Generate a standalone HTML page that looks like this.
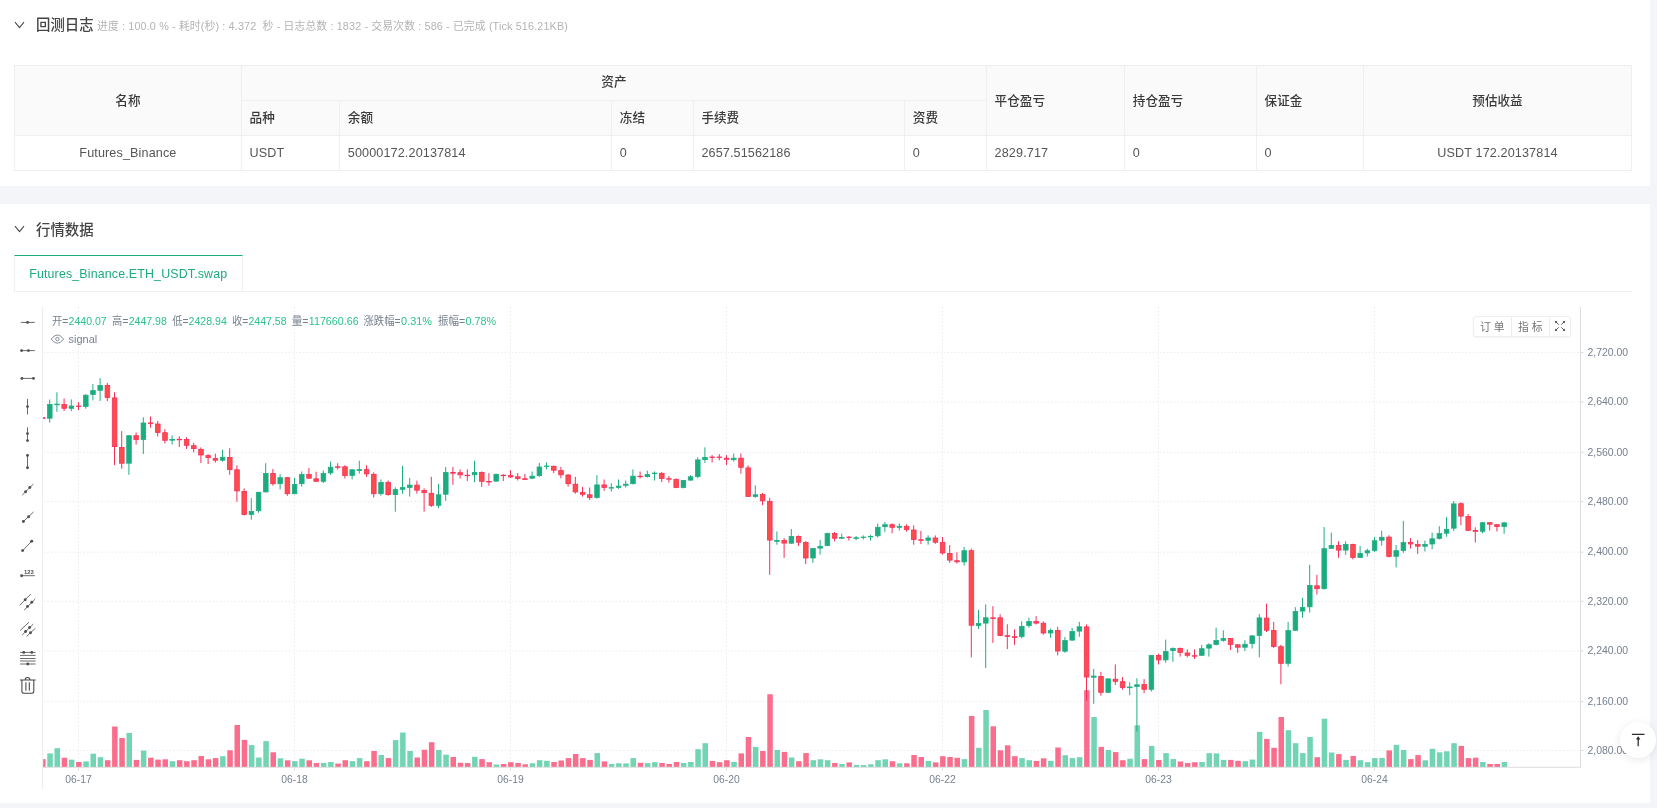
<!DOCTYPE html>
<html lang="zh-CN">
<head>
<meta charset="utf-8">
<title>回测日志</title>
<style>
html,body{margin:0;padding:0}
body{width:1657px;height:808px;overflow:hidden;background:#f4f5f8;position:relative;font-family:"Liberation Sans","Noto Sans CJK SC",sans-serif;color:#333}
#root{position:absolute;left:0;top:0;width:1657px;height:808px;overflow:hidden;will-change:transform}
.panel{position:absolute;left:0;width:1650px;background:#fff}
#p1{top:0;height:186px}
#p2{top:204px;height:599px}
.ttl{position:absolute;left:36px;font-size:14.4px;line-height:20px;color:#454545;font-weight:500;white-space:nowrap}
.sub{position:absolute;left:97px;font-size:10.8px;line-height:16px;color:#b4b4b4;white-space:pre;letter-spacing:0.14px}
.chev{position:absolute;left:14px;width:11px;height:8px}
.tb{position:absolute;left:14px;top:65px;width:1618px;height:106px}
.tb i{position:absolute;display:block;background:#efefef}
.tb b{position:absolute;display:block;font-weight:normal;font-size:12.6px;line-height:20px;height:20px;white-space:nowrap}
.tb b.h{font-weight:500;color:#3a3a3a}
.tb b.d{color:#555}
.tb b.c{transform:translateX(-50%)}
.thbg{position:absolute;left:0;top:0;width:1618px;height:70px;background:#fafafa}
.tab{position:absolute;left:14px;top:255px;width:228.5px;height:36px;box-sizing:border-box;border-top:1.6px solid #1bab7f;border-left:1px solid #efefef;border-right:1px solid #efefef;background:#fff;color:#1bab7f;font-size:12.4px;line-height:37px;text-align:center;white-space:nowrap;letter-spacing:0.16px}
.tabline{position:absolute;left:14px;top:291px;width:1618px;height:1px;background:#f0f0f0}
.chart{position:absolute;left:0;top:300px}
.btns{position:absolute;left:1472.8px;top:315.8px;width:98.2px;height:21px;box-sizing:border-box;border:1px solid #eeeeee;border-radius:3px;background:#fff;box-shadow:0 1px 2px rgba(0,0,0,.05);font-size:10.8px;color:#757575;display:flex;line-height:20.4px}
.btns span{display:block;text-align:center;border-right:1px solid #eeeeee;box-sizing:border-box}
.btns span:last-child{border-right:0}
.top{position:absolute;left:1620px;top:722px;width:36px;height:36px;border-radius:50%;background:#fff;box-shadow:0 2px 10px rgba(0,0,0,.09)}
</style>
</head>
<body>
<div id="root">
<div class="panel" id="p1"></div>
<div class="panel" id="p2"></div>

<svg class="chev" style="top:21px" viewBox="0 0 11 8"><path d="M1 1.2L5.5 6.6L10 1.2" fill="none" stroke="#484848" stroke-width="1.05"/></svg>
<div class="ttl" style="top:15px">回测日志</div>
<div class="sub" style="top:18px">进度 : 100.0 % - 耗时(秒) : 4.372  秒 - 日志总数 : 1832 - 交易次数 : 586 - 已完成 (Tick 516.21KB)</div>

<div class="tb"><div class="thbg"></div>
<i style="left:-0.1px;top:-0.1px;width:1618.1px;height:1px"></i>
<i style="left:226.9px;top:34.8px;width:746.0px;height:1px"></i>
<i style="left:-0.1px;top:69.8px;width:1618.1px;height:1px"></i>
<i style="left:-0.1px;top:104.8px;width:1618.1px;height:1px"></i>
<i style="left:-0.1px;top:-0.1px;width:1px;height:105.9px"></i>
<i style="left:226.9px;top:-0.1px;width:1px;height:105.9px"></i>
<i style="left:325.1px;top:34.8px;width:1px;height:71.0px"></i>
<i style="left:597.1px;top:34.8px;width:1px;height:71.0px"></i>
<i style="left:678.7px;top:34.8px;width:1px;height:71.0px"></i>
<i style="left:890.1px;top:34.8px;width:1px;height:71.0px"></i>
<i style="left:971.9px;top:-0.1px;width:1px;height:105.9px"></i>
<i style="left:1110.1px;top:-0.1px;width:1px;height:105.9px"></i>
<i style="left:1241.9px;top:-0.1px;width:1px;height:105.9px"></i>
<i style="left:1349.1px;top:-0.1px;width:1px;height:105.9px"></i>
<i style="left:1617.0px;top:-0.1px;width:1px;height:105.9px"></i>
<b class="h c" style="left:113.9px;top:25.9px">名称</b>
<b class="h c" style="left:599.9px;top:7.4px">资产</b>
<b class="h" style="left:980.6px;top:25.9px">平仓盈亏</b>
<b class="h" style="left:1118.8px;top:25.9px">持仓盈亏</b>
<b class="h" style="left:1250.6px;top:25.9px">保证金</b>
<b class="h c" style="left:1483.5px;top:25.9px">预估收益</b>
<b class="h" style="left:235.6px;top:42.6px">品种</b>
<b class="h" style="left:333.8px;top:42.6px">余额</b>
<b class="h" style="left:605.8px;top:42.6px">冻结</b>
<b class="h" style="left:687.4px;top:42.6px">手续费</b>
<b class="h" style="left:898.8px;top:42.6px">资费</b>
<b class="d c" style="left:113.9px;top:77.7px;letter-spacing:0.13px">Futures_Binance</b>
<b class="d" style="left:235.6px;top:77.7px;letter-spacing:0.13px">USDT</b>
<b class="d" style="left:333.8px;top:77.7px;letter-spacing:0.13px">50000172.20137814</b>
<b class="d" style="left:605.8px;top:77.7px;letter-spacing:0.13px">0</b>
<b class="d" style="left:687.4px;top:77.7px;letter-spacing:0.13px">2657.51562186</b>
<b class="d" style="left:898.8px;top:77.7px;letter-spacing:0.13px">0</b>
<b class="d" style="left:980.6px;top:77.7px;letter-spacing:0.13px">2829.717</b>
<b class="d" style="left:1118.8px;top:77.7px;letter-spacing:0.13px">0</b>
<b class="d" style="left:1250.6px;top:77.7px;letter-spacing:0.13px">0</b>
<b class="d c" style="left:1483.5px;top:77.7px;letter-spacing:0.13px">USDT 172.20137814</b>
</div>

<svg class="chev" style="top:225px" viewBox="0 0 11 8"><path d="M1 1.2L5.5 6.6L10 1.2" fill="none" stroke="#484848" stroke-width="1.05"/></svg>
<div class="ttl" style="top:219.5px">行情数据</div>
<div class="tabline"></div>
<div class="tab">Futures_Binance.ETH_USDT.swap</div>

<svg class="chart" width="1657" height="508" viewBox="0 300 1657 508">
<defs><clipPath id="cp"><rect x="43.1" y="307" width="1537.4" height="460.3"/></clipPath></defs>
<g stroke="#ececec" stroke-width="1" stroke-dasharray="1.6 2" fill="none"><path d="M43.6 352.4H1580.5"/><path d="M43.6 402H1580.5"/><path d="M43.6 452.3H1580.5"/><path d="M43.6 501.6H1580.5"/><path d="M43.6 552.2H1580.5"/><path d="M43.6 601.3H1580.5"/><path d="M43.6 651H1580.5"/><path d="M43.6 701.4H1580.5"/><path d="M43.6 750.6H1580.5"/><path d="M78.5 307V767.3"/><path d="M294.5 307V767.3"/><path d="M510.5 307V767.3"/><path d="M726.5 307V767.3"/><path d="M942.5 307V767.3"/><path d="M1158.5 307V767.3"/><path d="M1374.5 307V767.3"/></g>
<g clip-path="url(#cp)" fill-opacity="0.68"><rect x="40.1" y="759.1" width="5.5" height="8.2" fill="rgb(249,40,85)"/><rect x="47.3" y="753.4" width="5.5" height="13.9" fill="rgb(45,192,142)"/><rect x="54.5" y="748.2" width="5.5" height="19.1" fill="rgb(45,192,142)"/><rect x="61.7" y="757.8" width="5.5" height="9.5" fill="rgb(249,40,85)"/><rect x="68.9" y="759.7" width="5.5" height="7.6" fill="rgb(45,192,142)"/><rect x="76.1" y="762" width="5.5" height="5.3" fill="rgb(249,40,85)"/><rect x="83.3" y="761.4" width="5.5" height="5.9" fill="rgb(45,192,142)"/><rect x="90.5" y="753.7" width="5.5" height="13.6" fill="rgb(45,192,142)"/><rect x="97.7" y="757.2" width="5.5" height="10.1" fill="rgb(45,192,142)"/><rect x="104.9" y="760.2" width="5.5" height="7.1" fill="rgb(249,40,85)"/><rect x="112.1" y="726.5" width="5.5" height="40.8" fill="rgb(249,40,85)"/><rect x="119.3" y="738" width="5.5" height="29.3" fill="rgb(249,40,85)"/><rect x="126.5" y="732.9" width="5.5" height="34.4" fill="rgb(45,192,142)"/><rect x="133.7" y="759.9" width="5.5" height="7.4" fill="rgb(249,40,85)"/><rect x="140.9" y="750.6" width="5.5" height="16.7" fill="rgb(45,192,142)"/><rect x="148.1" y="757.7" width="5.5" height="9.6" fill="rgb(249,40,85)"/><rect x="155.3" y="759.6" width="5.5" height="7.7" fill="rgb(249,40,85)"/><rect x="162.5" y="759.3" width="5.5" height="8" fill="rgb(249,40,85)"/><rect x="169.7" y="761.2" width="5.5" height="6.1" fill="rgb(45,192,142)"/><rect x="176.9" y="760.2" width="5.5" height="7.1" fill="rgb(249,40,85)"/><rect x="184.1" y="761.2" width="5.5" height="6.1" fill="rgb(249,40,85)"/><rect x="191.3" y="760.2" width="5.5" height="7.1" fill="rgb(249,40,85)"/><rect x="198.5" y="756" width="5.5" height="11.3" fill="rgb(249,40,85)"/><rect x="205.7" y="759.3" width="5.5" height="8" fill="rgb(249,40,85)"/><rect x="212.9" y="758.1" width="5.5" height="9.2" fill="rgb(249,40,85)"/><rect x="220.1" y="756.2" width="5.5" height="11.1" fill="rgb(45,192,142)"/><rect x="227.3" y="750.3" width="5.5" height="17" fill="rgb(249,40,85)"/><rect x="234.5" y="725" width="5.5" height="42.3" fill="rgb(249,40,85)"/><rect x="241.7" y="739.9" width="5.5" height="27.4" fill="rgb(249,40,85)"/><rect x="248.9" y="745.1" width="5.5" height="22.2" fill="rgb(45,192,142)"/><rect x="256.1" y="757.5" width="5.5" height="9.8" fill="rgb(45,192,142)"/><rect x="263.3" y="741.1" width="5.5" height="26.2" fill="rgb(45,192,142)"/><rect x="270.5" y="752.3" width="5.5" height="15" fill="rgb(249,40,85)"/><rect x="277.7" y="758.3" width="5.5" height="9" fill="rgb(45,192,142)"/><rect x="284.9" y="760.3" width="5.5" height="7" fill="rgb(249,40,85)"/><rect x="292.1" y="761.2" width="5.5" height="6.1" fill="rgb(45,192,142)"/><rect x="299.3" y="758.7" width="5.5" height="8.6" fill="rgb(45,192,142)"/><rect x="306.5" y="760.3" width="5.5" height="7" fill="rgb(249,40,85)"/><rect x="313.7" y="763" width="5.5" height="4.3" fill="rgb(249,40,85)"/><rect x="320.9" y="763" width="5.5" height="4.3" fill="rgb(45,192,142)"/><rect x="328.1" y="762" width="5.5" height="5.3" fill="rgb(45,192,142)"/><rect x="335.3" y="763.6" width="5.5" height="3.7" fill="rgb(249,40,85)"/><rect x="342.5" y="760.2" width="5.5" height="7.1" fill="rgb(249,40,85)"/><rect x="349.7" y="761.2" width="5.5" height="6.1" fill="rgb(45,192,142)"/><rect x="356.9" y="758.1" width="5.5" height="9.2" fill="rgb(45,192,142)"/><rect x="364.1" y="761.2" width="5.5" height="6.1" fill="rgb(249,40,85)"/><rect x="371.3" y="751" width="5.5" height="16.3" fill="rgb(249,40,85)"/><rect x="378.5" y="755" width="5.5" height="12.3" fill="rgb(45,192,142)"/><rect x="385.7" y="758.1" width="5.5" height="9.2" fill="rgb(249,40,85)"/><rect x="392.9" y="740.1" width="5.5" height="27.2" fill="rgb(45,192,142)"/><rect x="400.1" y="732.5" width="5.5" height="34.8" fill="rgb(45,192,142)"/><rect x="407.3" y="751" width="5.5" height="16.3" fill="rgb(45,192,142)"/><rect x="414.5" y="757.5" width="5.5" height="9.8" fill="rgb(249,40,85)"/><rect x="421.7" y="749.8" width="5.5" height="17.5" fill="rgb(249,40,85)"/><rect x="428.9" y="742.2" width="5.5" height="25.1" fill="rgb(249,40,85)"/><rect x="436.1" y="750" width="5.5" height="17.3" fill="rgb(45,192,142)"/><rect x="443.3" y="754.7" width="5.5" height="12.6" fill="rgb(45,192,142)"/><rect x="450.5" y="757" width="5.5" height="10.3" fill="rgb(249,40,85)"/><rect x="457.7" y="762.8" width="5.5" height="4.5" fill="rgb(249,40,85)"/><rect x="464.9" y="763" width="5.5" height="4.3" fill="rgb(249,40,85)"/><rect x="472.1" y="756.8" width="5.5" height="10.5" fill="rgb(45,192,142)"/><rect x="479.3" y="759.1" width="5.5" height="8.2" fill="rgb(249,40,85)"/><rect x="486.5" y="762.2" width="5.5" height="5.1" fill="rgb(249,40,85)"/><rect x="493.7" y="764.5" width="5.5" height="2.8" fill="rgb(45,192,142)"/><rect x="500.9" y="764" width="5.5" height="3.3" fill="rgb(249,40,85)"/><rect x="508.1" y="762.2" width="5.5" height="5.1" fill="rgb(249,40,85)"/><rect x="515.3" y="763" width="5.5" height="4.3" fill="rgb(249,40,85)"/><rect x="522.5" y="764.3" width="5.5" height="3" fill="rgb(249,40,85)"/><rect x="529.7" y="763.3" width="5.5" height="4" fill="rgb(45,192,142)"/><rect x="536.9" y="760.2" width="5.5" height="7.1" fill="rgb(45,192,142)"/><rect x="544.1" y="760.8" width="5.5" height="6.5" fill="rgb(45,192,142)"/><rect x="551.3" y="762" width="5.5" height="5.3" fill="rgb(249,40,85)"/><rect x="558.5" y="760.5" width="5.5" height="6.8" fill="rgb(249,40,85)"/><rect x="565.7" y="758.1" width="5.5" height="9.2" fill="rgb(249,40,85)"/><rect x="572.9" y="754" width="5.5" height="13.3" fill="rgb(249,40,85)"/><rect x="580.1" y="758.1" width="5.5" height="9.2" fill="rgb(249,40,85)"/><rect x="587.3" y="759.9" width="5.5" height="7.4" fill="rgb(249,40,85)"/><rect x="594.5" y="753.1" width="5.5" height="14.2" fill="rgb(45,192,142)"/><rect x="601.7" y="761.4" width="5.5" height="5.9" fill="rgb(249,40,85)"/><rect x="608.9" y="764" width="5.5" height="3.3" fill="rgb(45,192,142)"/><rect x="616.1" y="763.3" width="5.5" height="4" fill="rgb(45,192,142)"/><rect x="623.3" y="763.4" width="5.5" height="3.9" fill="rgb(45,192,142)"/><rect x="630.5" y="758.1" width="5.5" height="9.2" fill="rgb(45,192,142)"/><rect x="637.7" y="762.8" width="5.5" height="4.5" fill="rgb(249,40,85)"/><rect x="644.9" y="763.1" width="5.5" height="4.2" fill="rgb(45,192,142)"/><rect x="652.1" y="762.2" width="5.5" height="5.1" fill="rgb(45,192,142)"/><rect x="659.3" y="763" width="5.5" height="4.3" fill="rgb(249,40,85)"/><rect x="666.5" y="764" width="5.5" height="3.3" fill="rgb(249,40,85)"/><rect x="673.7" y="762" width="5.5" height="5.3" fill="rgb(249,40,85)"/><rect x="680.9" y="763" width="5.5" height="4.3" fill="rgb(45,192,142)"/><rect x="688.1" y="762" width="5.5" height="5.3" fill="rgb(45,192,142)"/><rect x="695.3" y="749.2" width="5.5" height="18.1" fill="rgb(45,192,142)"/><rect x="702.5" y="743.2" width="5.5" height="24.1" fill="rgb(45,192,142)"/><rect x="709.7" y="760.9" width="5.5" height="6.4" fill="rgb(249,40,85)"/><rect x="716.9" y="762.2" width="5.5" height="5.1" fill="rgb(249,40,85)"/><rect x="724.1" y="760.2" width="5.5" height="7.1" fill="rgb(249,40,85)"/><rect x="731.3" y="761.9" width="5.5" height="5.4" fill="rgb(45,192,142)"/><rect x="738.5" y="753.4" width="5.5" height="13.9" fill="rgb(249,40,85)"/><rect x="745.7" y="737" width="5.5" height="30.3" fill="rgb(249,40,85)"/><rect x="752.9" y="746.9" width="5.5" height="20.4" fill="rgb(45,192,142)"/><rect x="760.1" y="751" width="5.5" height="16.3" fill="rgb(249,40,85)"/><rect x="767.3" y="694.3" width="5.5" height="73" fill="rgb(249,40,85)"/><rect x="774.5" y="750" width="5.5" height="17.3" fill="rgb(45,192,142)"/><rect x="781.7" y="751.9" width="5.5" height="15.4" fill="rgb(249,40,85)"/><rect x="788.9" y="757.5" width="5.5" height="9.8" fill="rgb(45,192,142)"/><rect x="796.1" y="761.2" width="5.5" height="6.1" fill="rgb(249,40,85)"/><rect x="803.3" y="753.1" width="5.5" height="14.2" fill="rgb(249,40,85)"/><rect x="810.5" y="760.2" width="5.5" height="7.1" fill="rgb(45,192,142)"/><rect x="817.7" y="759.3" width="5.5" height="8" fill="rgb(45,192,142)"/><rect x="824.9" y="760.2" width="5.5" height="7.1" fill="rgb(45,192,142)"/><rect x="832.1" y="763" width="5.5" height="4.3" fill="rgb(249,40,85)"/><rect x="839.3" y="764" width="5.5" height="3.3" fill="rgb(45,192,142)"/><rect x="846.5" y="762.4" width="5.5" height="4.9" fill="rgb(249,40,85)"/><rect x="853.7" y="764.9" width="5.5" height="2.4" fill="rgb(45,192,142)"/><rect x="860.9" y="765.1" width="5.5" height="2.2" fill="rgb(45,192,142)"/><rect x="868.1" y="764.3" width="5.5" height="3" fill="rgb(45,192,142)"/><rect x="875.3" y="760.2" width="5.5" height="7.1" fill="rgb(45,192,142)"/><rect x="882.5" y="759.3" width="5.5" height="8" fill="rgb(45,192,142)"/><rect x="889.7" y="761.2" width="5.5" height="6.1" fill="rgb(249,40,85)"/><rect x="896.9" y="763.3" width="5.5" height="4" fill="rgb(45,192,142)"/><rect x="904.1" y="763.3" width="5.5" height="4" fill="rgb(249,40,85)"/><rect x="911.3" y="755" width="5.5" height="12.3" fill="rgb(249,40,85)"/><rect x="918.5" y="757" width="5.5" height="10.3" fill="rgb(249,40,85)"/><rect x="925.7" y="760.9" width="5.5" height="6.4" fill="rgb(45,192,142)"/><rect x="932.9" y="762.4" width="5.5" height="4.9" fill="rgb(249,40,85)"/><rect x="940.1" y="756.2" width="5.5" height="11.1" fill="rgb(249,40,85)"/><rect x="947.3" y="757" width="5.5" height="10.3" fill="rgb(249,40,85)"/><rect x="954.5" y="757.8" width="5.5" height="9.5" fill="rgb(249,40,85)"/><rect x="961.7" y="759.1" width="5.5" height="8.2" fill="rgb(45,192,142)"/><rect x="968.9" y="716" width="5.5" height="51.3" fill="rgb(249,40,85)"/><rect x="976.1" y="747.8" width="5.5" height="19.5" fill="rgb(45,192,142)"/><rect x="983.3" y="710" width="5.5" height="57.3" fill="rgb(45,192,142)"/><rect x="990.5" y="726.3" width="5.5" height="41" fill="rgb(249,40,85)"/><rect x="997.7" y="750.3" width="5.5" height="17" fill="rgb(249,40,85)"/><rect x="1004.9" y="745.3" width="5.5" height="22" fill="rgb(249,40,85)"/><rect x="1012.1" y="756.2" width="5.5" height="11.1" fill="rgb(249,40,85)"/><rect x="1019.3" y="758.1" width="5.5" height="9.2" fill="rgb(45,192,142)"/><rect x="1026.5" y="760.2" width="5.5" height="7.1" fill="rgb(45,192,142)"/><rect x="1033.7" y="760.9" width="5.5" height="6.4" fill="rgb(249,40,85)"/><rect x="1040.9" y="758.3" width="5.5" height="9" fill="rgb(249,40,85)"/><rect x="1048.1" y="760.8" width="5.5" height="6.5" fill="rgb(45,192,142)"/><rect x="1055.3" y="747.5" width="5.5" height="19.8" fill="rgb(249,40,85)"/><rect x="1062.5" y="755.2" width="5.5" height="12.1" fill="rgb(45,192,142)"/><rect x="1069.7" y="758.1" width="5.5" height="9.2" fill="rgb(45,192,142)"/><rect x="1076.9" y="757.2" width="5.5" height="10.1" fill="rgb(45,192,142)"/><rect x="1084.1" y="690.2" width="5.5" height="77.1" fill="rgb(249,40,85)"/><rect x="1091.3" y="717" width="5.5" height="50.3" fill="rgb(45,192,142)"/><rect x="1098.5" y="746.9" width="5.5" height="20.4" fill="rgb(249,40,85)"/><rect x="1105.7" y="750" width="5.5" height="17.3" fill="rgb(45,192,142)"/><rect x="1112.9" y="752.1" width="5.5" height="15.2" fill="rgb(249,40,85)"/><rect x="1120.1" y="760.2" width="5.5" height="7.1" fill="rgb(249,40,85)"/><rect x="1127.3" y="758.7" width="5.5" height="8.6" fill="rgb(45,192,142)"/><rect x="1134.5" y="725.3" width="5.5" height="42" fill="rgb(45,192,142)"/><rect x="1141.7" y="759.1" width="5.5" height="8.2" fill="rgb(249,40,85)"/><rect x="1148.9" y="745.9" width="5.5" height="21.4" fill="rgb(45,192,142)"/><rect x="1156.1" y="760" width="5.5" height="7.3" fill="rgb(249,40,85)"/><rect x="1163.3" y="753.1" width="5.5" height="14.2" fill="rgb(45,192,142)"/><rect x="1170.5" y="759.1" width="5.5" height="8.2" fill="rgb(45,192,142)"/><rect x="1177.7" y="761.5" width="5.5" height="5.8" fill="rgb(249,40,85)"/><rect x="1184.9" y="763" width="5.5" height="4.3" fill="rgb(249,40,85)"/><rect x="1192.1" y="762.2" width="5.5" height="5.1" fill="rgb(249,40,85)"/><rect x="1199.3" y="762" width="5.5" height="5.3" fill="rgb(45,192,142)"/><rect x="1206.5" y="753.2" width="5.5" height="14.1" fill="rgb(45,192,142)"/><rect x="1213.7" y="753.4" width="5.5" height="13.9" fill="rgb(45,192,142)"/><rect x="1220.9" y="759.9" width="5.5" height="7.4" fill="rgb(45,192,142)"/><rect x="1228.1" y="759.9" width="5.5" height="7.4" fill="rgb(249,40,85)"/><rect x="1235.3" y="760.8" width="5.5" height="6.5" fill="rgb(249,40,85)"/><rect x="1242.5" y="761.2" width="5.5" height="6.1" fill="rgb(45,192,142)"/><rect x="1249.7" y="759.6" width="5.5" height="7.7" fill="rgb(45,192,142)"/><rect x="1256.9" y="731.8" width="5.5" height="35.5" fill="rgb(45,192,142)"/><rect x="1264.1" y="738.9" width="5.5" height="28.4" fill="rgb(249,40,85)"/><rect x="1271.3" y="747.8" width="5.5" height="19.5" fill="rgb(249,40,85)"/><rect x="1278.5" y="717" width="5.5" height="50.3" fill="rgb(249,40,85)"/><rect x="1285.7" y="730.2" width="5.5" height="37.1" fill="rgb(45,192,142)"/><rect x="1292.9" y="743.2" width="5.5" height="24.1" fill="rgb(45,192,142)"/><rect x="1300.1" y="753.1" width="5.5" height="14.2" fill="rgb(45,192,142)"/><rect x="1307.3" y="737" width="5.5" height="30.3" fill="rgb(45,192,142)"/><rect x="1314.5" y="757.2" width="5.5" height="10.1" fill="rgb(249,40,85)"/><rect x="1321.7" y="718.7" width="5.5" height="48.6" fill="rgb(45,192,142)"/><rect x="1328.9" y="752.5" width="5.5" height="14.8" fill="rgb(45,192,142)"/><rect x="1336.1" y="754.1" width="5.5" height="13.2" fill="rgb(249,40,85)"/><rect x="1343.3" y="759.9" width="5.5" height="7.4" fill="rgb(45,192,142)"/><rect x="1350.5" y="756" width="5.5" height="11.3" fill="rgb(249,40,85)"/><rect x="1357.7" y="760.2" width="5.5" height="7.1" fill="rgb(45,192,142)"/><rect x="1364.9" y="762.2" width="5.5" height="5.1" fill="rgb(45,192,142)"/><rect x="1372.1" y="758.1" width="5.5" height="9.2" fill="rgb(45,192,142)"/><rect x="1379.3" y="757.9" width="5.5" height="9.4" fill="rgb(45,192,142)"/><rect x="1386.5" y="750.4" width="5.5" height="16.9" fill="rgb(249,40,85)"/><rect x="1393.7" y="744.8" width="5.5" height="22.5" fill="rgb(45,192,142)"/><rect x="1400.9" y="750" width="5.5" height="17.3" fill="rgb(45,192,142)"/><rect x="1408.1" y="759.1" width="5.5" height="8.2" fill="rgb(249,40,85)"/><rect x="1415.3" y="755.1" width="5.5" height="12.2" fill="rgb(249,40,85)"/><rect x="1422.5" y="760.3" width="5.5" height="7" fill="rgb(45,192,142)"/><rect x="1429.7" y="748.8" width="5.5" height="18.5" fill="rgb(45,192,142)"/><rect x="1436.9" y="752.3" width="5.5" height="15" fill="rgb(45,192,142)"/><rect x="1444.1" y="751.3" width="5.5" height="16" fill="rgb(45,192,142)"/><rect x="1451.3" y="743.2" width="5.5" height="24.1" fill="rgb(45,192,142)"/><rect x="1458.5" y="745.9" width="5.5" height="21.4" fill="rgb(249,40,85)"/><rect x="1465.7" y="758.1" width="5.5" height="9.2" fill="rgb(249,40,85)"/><rect x="1472.9" y="757.7" width="5.5" height="9.6" fill="rgb(249,40,85)"/><rect x="1480.1" y="762" width="5.5" height="5.3" fill="rgb(45,192,142)"/><rect x="1487.3" y="764" width="5.5" height="3.3" fill="rgb(249,40,85)"/><rect x="1494.5" y="764" width="5.5" height="3.3" fill="rgb(249,40,85)"/><rect x="1501.7" y="762" width="5.5" height="5.3" fill="rgb(45,192,142)"/></g>
<g clip-path="url(#cp)"><rect x="42" y="417.1" width="1" height="1.8" fill="#f72f58"/><rect x="40.3" y="417.5" width="4.6" height="0.9" fill="#ff4b4e" stroke="#f72f58" stroke-width="0.8"/><rect x="49.2" y="399.5" width="1" height="23.1" fill="#1fae83"/><rect x="47.5" y="404.5" width="4.6" height="13.7" fill="#1bab7f" stroke="#1fae83" stroke-width="0.8"/><rect x="56.4" y="392.3" width="1" height="19.5" fill="#1fae83"/><rect x="54.7" y="404.1" width="4.6" height="0.6" fill="#1bab7f" stroke="#1fae83" stroke-width="0.8"/><rect x="63.6" y="398.5" width="1" height="12.6" fill="#f72f58"/><rect x="61.9" y="404.5" width="4.6" height="3.8" fill="#ff4b4e" stroke="#f72f58" stroke-width="0.8"/><rect x="70.8" y="399.4" width="1" height="11.7" fill="#1fae83"/><rect x="69.1" y="406" width="4.6" height="2.3" fill="#1bab7f" stroke="#1fae83" stroke-width="0.8"/><rect x="78" y="402.2" width="1" height="7.8" fill="#f72f58"/><rect x="76.3" y="406" width="4.6" height="0.5" fill="#ff4b4e" stroke="#f72f58" stroke-width="0.8"/><rect x="85.2" y="394.2" width="1" height="14.5" fill="#1fae83"/><rect x="83.5" y="395.2" width="4.6" height="11.2" fill="#1bab7f" stroke="#1fae83" stroke-width="0.8"/><rect x="92.4" y="384" width="1" height="16.4" fill="#1fae83"/><rect x="90.7" y="390.6" width="4.6" height="3.8" fill="#1bab7f" stroke="#1fae83" stroke-width="0.8"/><rect x="99.6" y="378.1" width="1" height="22.9" fill="#1fae83"/><rect x="97.9" y="385.5" width="4.6" height="4.8" fill="#1bab7f" stroke="#1fae83" stroke-width="0.8"/><rect x="106.8" y="383" width="1" height="18" fill="#f72f58"/><rect x="105.1" y="385.5" width="4.6" height="12" fill="#ff4b4e" stroke="#f72f58" stroke-width="0.8"/><rect x="114" y="392.3" width="1" height="72.8" fill="#f72f58"/><rect x="112.3" y="397.9" width="4.6" height="48.7" fill="#ff4b4e" stroke="#f72f58" stroke-width="0.8"/><rect x="121.2" y="431.1" width="1" height="37.6" fill="#f72f58"/><rect x="119.5" y="447.4" width="4.6" height="15.8" fill="#ff4b4e" stroke="#f72f58" stroke-width="0.8"/><rect x="128.4" y="435.3" width="1" height="39.5" fill="#1fae83"/><rect x="126.7" y="435.7" width="4.6" height="27.5" fill="#1bab7f" stroke="#1fae83" stroke-width="0.8"/><rect x="135.6" y="432.5" width="1" height="12.1" fill="#f72f58"/><rect x="133.9" y="435.7" width="4.6" height="3.8" fill="#ff4b4e" stroke="#f72f58" stroke-width="0.8"/><rect x="142.8" y="417.3" width="1" height="36.7" fill="#1fae83"/><rect x="141.1" y="423" width="4.6" height="16.5" fill="#1bab7f" stroke="#1fae83" stroke-width="0.8"/><rect x="150" y="416.5" width="1" height="11.1" fill="#f72f58"/><rect x="148.3" y="422.9" width="4.6" height="0.5" fill="#ff4b4e" stroke="#f72f58" stroke-width="0.8"/><rect x="157.2" y="421" width="1" height="15.5" fill="#f72f58"/><rect x="155.5" y="424" width="4.6" height="8.4" fill="#ff4b4e" stroke="#f72f58" stroke-width="0.8"/><rect x="164.4" y="429.1" width="1" height="14.3" fill="#f72f58"/><rect x="162.7" y="432.7" width="4.6" height="7.6" fill="#ff4b4e" stroke="#f72f58" stroke-width="0.8"/><rect x="171.6" y="435.4" width="1" height="9.2" fill="#1fae83"/><rect x="169.9" y="439.4" width="4.6" height="0.8" fill="#1bab7f" stroke="#1fae83" stroke-width="0.8"/><rect x="178.8" y="436.3" width="1" height="10.7" fill="#f72f58"/><rect x="177.1" y="439.3" width="4.6" height="0.5" fill="#ff4b4e" stroke="#f72f58" stroke-width="0.8"/><rect x="186" y="437.3" width="1" height="11.6" fill="#f72f58"/><rect x="184.3" y="439.5" width="4.6" height="5.8" fill="#ff4b4e" stroke="#f72f58" stroke-width="0.8"/><rect x="193.2" y="442.8" width="1" height="9.6" fill="#f72f58"/><rect x="191.5" y="445.7" width="4.6" height="2.9" fill="#ff4b4e" stroke="#f72f58" stroke-width="0.8"/><rect x="200.4" y="447.4" width="1" height="15.7" fill="#f72f58"/><rect x="198.7" y="449.3" width="4.6" height="5.7" fill="#ff4b4e" stroke="#f72f58" stroke-width="0.8"/><rect x="207.6" y="454.2" width="1" height="9.9" fill="#f72f58"/><rect x="205.9" y="455.6" width="4.6" height="1.9" fill="#ff4b4e" stroke="#f72f58" stroke-width="0.8"/><rect x="214.8" y="453.6" width="1" height="9" fill="#f72f58"/><rect x="213.1" y="458.6" width="4.6" height="1.6" fill="#ff4b4e" stroke="#f72f58" stroke-width="0.8"/><rect x="222" y="449.8" width="1" height="11.8" fill="#1fae83"/><rect x="220.3" y="457.3" width="4.6" height="2.9" fill="#1bab7f" stroke="#1fae83" stroke-width="0.8"/><rect x="229.2" y="448.2" width="1" height="26.6" fill="#f72f58"/><rect x="227.5" y="457.4" width="4.6" height="12.1" fill="#ff4b4e" stroke="#f72f58" stroke-width="0.8"/><rect x="236.4" y="465.3" width="1" height="36.5" fill="#f72f58"/><rect x="234.7" y="469.8" width="4.6" height="21.1" fill="#ff4b4e" stroke="#f72f58" stroke-width="0.8"/><rect x="243.6" y="488.4" width="1" height="27" fill="#f72f58"/><rect x="241.9" y="491.4" width="4.6" height="23" fill="#ff4b4e" stroke="#f72f58" stroke-width="0.8"/><rect x="250.8" y="498.1" width="1" height="21.6" fill="#1fae83"/><rect x="249.1" y="511.5" width="4.6" height="2.9" fill="#1bab7f" stroke="#1fae83" stroke-width="0.8"/><rect x="258" y="491.9" width="1" height="20.8" fill="#1fae83"/><rect x="256.3" y="492.3" width="4.6" height="18.4" fill="#1bab7f" stroke="#1fae83" stroke-width="0.8"/><rect x="265.2" y="463.2" width="1" height="29.3" fill="#1fae83"/><rect x="263.5" y="473.5" width="4.6" height="18.4" fill="#1bab7f" stroke="#1fae83" stroke-width="0.8"/><rect x="272.4" y="469" width="1" height="16.7" fill="#f72f58"/><rect x="270.7" y="473.5" width="4.6" height="10.2" fill="#ff4b4e" stroke="#f72f58" stroke-width="0.8"/><rect x="279.6" y="474.2" width="1" height="15.2" fill="#1fae83"/><rect x="277.9" y="477.7" width="4.6" height="6" fill="#1bab7f" stroke="#1fae83" stroke-width="0.8"/><rect x="286.8" y="477" width="1" height="18.8" fill="#f72f58"/><rect x="285.1" y="477.7" width="4.6" height="16" fill="#ff4b4e" stroke="#f72f58" stroke-width="0.8"/><rect x="294" y="478" width="1" height="16.1" fill="#1fae83"/><rect x="292.3" y="484.4" width="4.6" height="9.3" fill="#1bab7f" stroke="#1fae83" stroke-width="0.8"/><rect x="301.2" y="471.5" width="1" height="15.2" fill="#1fae83"/><rect x="299.5" y="474.5" width="4.6" height="9.2" fill="#1bab7f" stroke="#1fae83" stroke-width="0.8"/><rect x="308.4" y="468" width="1" height="10.9" fill="#f72f58"/><rect x="306.7" y="474.5" width="4.6" height="3.7" fill="#ff4b4e" stroke="#f72f58" stroke-width="0.8"/><rect x="315.6" y="471.7" width="1" height="10" fill="#f72f58"/><rect x="313.9" y="478.8" width="4.6" height="2.5" fill="#ff4b4e" stroke="#f72f58" stroke-width="0.8"/><rect x="322.8" y="470.5" width="1" height="12.5" fill="#1fae83"/><rect x="321.1" y="473.5" width="4.6" height="7.8" fill="#1bab7f" stroke="#1fae83" stroke-width="0.8"/><rect x="330" y="461.6" width="1" height="13.2" fill="#1fae83"/><rect x="328.3" y="467.2" width="4.6" height="5.7" fill="#1bab7f" stroke="#1fae83" stroke-width="0.8"/><rect x="337.2" y="463.2" width="1" height="6.4" fill="#f72f58"/><rect x="335.5" y="466.8" width="4.6" height="0.5" fill="#ff4b4e" stroke="#f72f58" stroke-width="0.8"/><rect x="344.4" y="465.3" width="1" height="13.2" fill="#f72f58"/><rect x="342.7" y="466.8" width="4.6" height="8.8" fill="#ff4b4e" stroke="#f72f58" stroke-width="0.8"/><rect x="351.6" y="469" width="1" height="10.5" fill="#1fae83"/><rect x="349.9" y="469.8" width="4.6" height="5.6" fill="#1bab7f" stroke="#1fae83" stroke-width="0.8"/><rect x="358.8" y="460.7" width="1" height="12.9" fill="#1fae83"/><rect x="357.1" y="469.6" width="4.6" height="0.8" fill="#1bab7f" stroke="#1fae83" stroke-width="0.8"/><rect x="366" y="465.3" width="1" height="11.5" fill="#f72f58"/><rect x="364.3" y="469.6" width="4.6" height="4.2" fill="#ff4b4e" stroke="#f72f58" stroke-width="0.8"/><rect x="373.2" y="472.3" width="1" height="25.2" fill="#f72f58"/><rect x="371.5" y="474.3" width="4.6" height="19.4" fill="#ff4b4e" stroke="#f72f58" stroke-width="0.8"/><rect x="380.4" y="479.5" width="1" height="16.1" fill="#1fae83"/><rect x="378.7" y="482.4" width="4.6" height="11.3" fill="#1bab7f" stroke="#1fae83" stroke-width="0.8"/><rect x="387.6" y="480.4" width="1" height="15.2" fill="#f72f58"/><rect x="385.9" y="482.4" width="4.6" height="12.2" fill="#ff4b4e" stroke="#f72f58" stroke-width="0.8"/><rect x="394.8" y="487.3" width="1" height="24.4" fill="#1fae83"/><rect x="393.1" y="489.6" width="4.6" height="5" fill="#1bab7f" stroke="#1fae83" stroke-width="0.8"/><rect x="402" y="465.9" width="1" height="27.8" fill="#1fae83"/><rect x="400.3" y="487.6" width="4.6" height="1.7" fill="#1bab7f" stroke="#1fae83" stroke-width="0.8"/><rect x="409.2" y="477.9" width="1" height="18.7" fill="#1fae83"/><rect x="407.5" y="485.1" width="4.6" height="2.3" fill="#1bab7f" stroke="#1fae83" stroke-width="0.8"/><rect x="416.4" y="480.7" width="1" height="13" fill="#f72f58"/><rect x="414.7" y="485.1" width="4.6" height="5.1" fill="#ff4b4e" stroke="#f72f58" stroke-width="0.8"/><rect x="423.6" y="488.4" width="1" height="23.3" fill="#f72f58"/><rect x="421.9" y="490.4" width="4.6" height="2.3" fill="#ff4b4e" stroke="#f72f58" stroke-width="0.8"/><rect x="430.8" y="476.8" width="1" height="30.2" fill="#f72f58"/><rect x="429.1" y="493.3" width="4.6" height="12" fill="#ff4b4e" stroke="#f72f58" stroke-width="0.8"/><rect x="438" y="483.8" width="1" height="24.4" fill="#1fae83"/><rect x="436.3" y="494.8" width="4.6" height="10.5" fill="#1bab7f" stroke="#1fae83" stroke-width="0.8"/><rect x="445.2" y="466.9" width="1" height="33.9" fill="#1fae83"/><rect x="443.5" y="472.5" width="4.6" height="21.7" fill="#1bab7f" stroke="#1fae83" stroke-width="0.8"/><rect x="452.4" y="466.9" width="1" height="17.8" fill="#f72f58"/><rect x="450.7" y="472.5" width="4.6" height="0.7" fill="#ff4b4e" stroke="#f72f58" stroke-width="0.8"/><rect x="459.6" y="469.4" width="1" height="9.1" fill="#f72f58"/><rect x="457.9" y="472.7" width="4.6" height="2.1" fill="#ff4b4e" stroke="#f72f58" stroke-width="0.8"/><rect x="466.8" y="469.4" width="1" height="11.6" fill="#f72f58"/><rect x="465.1" y="475.2" width="4.6" height="0.5" fill="#ff4b4e" stroke="#f72f58" stroke-width="0.8"/><rect x="474" y="460.7" width="1" height="21.5" fill="#1fae83"/><rect x="472.3" y="472.5" width="4.6" height="2.3" fill="#1bab7f" stroke="#1fae83" stroke-width="0.8"/><rect x="481.2" y="471.5" width="1" height="15.4" fill="#f72f58"/><rect x="479.5" y="472.5" width="4.6" height="8.8" fill="#ff4b4e" stroke="#f72f58" stroke-width="0.8"/><rect x="488.4" y="473.1" width="1" height="12.6" fill="#f72f58"/><rect x="486.7" y="481.4" width="4.6" height="0.6" fill="#ff4b4e" stroke="#f72f58" stroke-width="0.8"/><rect x="495.6" y="473.6" width="1" height="8.1" fill="#1fae83"/><rect x="493.9" y="474.3" width="4.6" height="6.8" fill="#1bab7f" stroke="#1fae83" stroke-width="0.8"/><rect x="502.8" y="474.2" width="1" height="6.8" fill="#f72f58"/><rect x="501.1" y="475.2" width="4.6" height="0.5" fill="#ff4b4e" stroke="#f72f58" stroke-width="0.8"/><rect x="510" y="470.2" width="1" height="7.8" fill="#f72f58"/><rect x="508.3" y="475.6" width="4.6" height="1.3" fill="#ff4b4e" stroke="#f72f58" stroke-width="0.8"/><rect x="517.2" y="473.1" width="1" height="7.4" fill="#f72f58"/><rect x="515.5" y="476.8" width="4.6" height="1.7" fill="#ff4b4e" stroke="#f72f58" stroke-width="0.8"/><rect x="524.4" y="473.9" width="1" height="5.9" fill="#f72f58"/><rect x="522.7" y="478.7" width="4.6" height="0.7" fill="#ff4b4e" stroke="#f72f58" stroke-width="0.8"/><rect x="531.6" y="471.5" width="1" height="7.4" fill="#1fae83"/><rect x="529.9" y="476.2" width="4.6" height="2" fill="#1bab7f" stroke="#1fae83" stroke-width="0.8"/><rect x="538.8" y="463" width="1" height="13.8" fill="#1fae83"/><rect x="537.1" y="467" width="4.6" height="8.6" fill="#1bab7f" stroke="#1fae83" stroke-width="0.8"/><rect x="546" y="462.4" width="1" height="7" fill="#1fae83"/><rect x="544.3" y="466" width="4.6" height="0.5" fill="#1bab7f" stroke="#1fae83" stroke-width="0.8"/><rect x="553.2" y="465.6" width="1" height="7.5" fill="#f72f58"/><rect x="551.5" y="466.3" width="4.6" height="3.9" fill="#ff4b4e" stroke="#f72f58" stroke-width="0.8"/><rect x="560.4" y="466.9" width="1" height="11.4" fill="#f72f58"/><rect x="558.7" y="470.6" width="4.6" height="4.2" fill="#ff4b4e" stroke="#f72f58" stroke-width="0.8"/><rect x="567.6" y="474.3" width="1" height="12.4" fill="#f72f58"/><rect x="565.9" y="475" width="4.6" height="8.7" fill="#ff4b4e" stroke="#f72f58" stroke-width="0.8"/><rect x="574.8" y="476.8" width="1" height="16.9" fill="#f72f58"/><rect x="573.1" y="484.2" width="4.6" height="7.7" fill="#ff4b4e" stroke="#f72f58" stroke-width="0.8"/><rect x="582" y="486.9" width="1" height="9.7" fill="#f72f58"/><rect x="580.3" y="492.5" width="4.6" height="1.8" fill="#ff4b4e" stroke="#f72f58" stroke-width="0.8"/><rect x="589.2" y="487.5" width="1" height="12.4" fill="#f72f58"/><rect x="587.5" y="494.8" width="4.6" height="2.6" fill="#ff4b4e" stroke="#f72f58" stroke-width="0.8"/><rect x="596.4" y="475.2" width="1" height="23.5" fill="#1fae83"/><rect x="594.7" y="484.9" width="4.6" height="12.5" fill="#1bab7f" stroke="#1fae83" stroke-width="0.8"/><rect x="603.6" y="479.5" width="1" height="11.4" fill="#f72f58"/><rect x="601.9" y="484.9" width="4.6" height="2.5" fill="#ff4b4e" stroke="#f72f58" stroke-width="0.8"/><rect x="610.8" y="483.2" width="1" height="8.4" fill="#1fae83"/><rect x="609.1" y="487.6" width="4.6" height="0.5" fill="#1bab7f" stroke="#1fae83" stroke-width="0.8"/><rect x="618" y="479.5" width="1" height="9.3" fill="#1fae83"/><rect x="616.3" y="486.1" width="4.6" height="1.3" fill="#1bab7f" stroke="#1fae83" stroke-width="0.8"/><rect x="625.2" y="480.5" width="1" height="7" fill="#1fae83"/><rect x="623.5" y="484.2" width="4.6" height="1.1" fill="#1bab7f" stroke="#1fae83" stroke-width="0.8"/><rect x="632.4" y="469.4" width="1" height="15.1" fill="#1fae83"/><rect x="630.7" y="476.2" width="4.6" height="7.5" fill="#1bab7f" stroke="#1fae83" stroke-width="0.8"/><rect x="639.6" y="471.5" width="1" height="7" fill="#f72f58"/><rect x="637.9" y="476.2" width="4.6" height="0.5" fill="#ff4b4e" stroke="#f72f58" stroke-width="0.8"/><rect x="646.8" y="470.6" width="1" height="7" fill="#1fae83"/><rect x="645.1" y="474.6" width="4.6" height="2" fill="#1bab7f" stroke="#1fae83" stroke-width="0.8"/><rect x="654" y="471.5" width="1" height="9" fill="#1fae83"/><rect x="652.3" y="473.1" width="4.6" height="0.5" fill="#1bab7f" stroke="#1fae83" stroke-width="0.8"/><rect x="661.2" y="472.1" width="1" height="9.9" fill="#f72f58"/><rect x="659.5" y="473.3" width="4.6" height="5.2" fill="#ff4b4e" stroke="#f72f58" stroke-width="0.8"/><rect x="668.4" y="476" width="1" height="6.6" fill="#f72f58"/><rect x="666.7" y="478.7" width="4.6" height="0.5" fill="#ff4b4e" stroke="#f72f58" stroke-width="0.8"/><rect x="675.6" y="478.3" width="1" height="9.9" fill="#f72f58"/><rect x="673.9" y="479.5" width="4.6" height="7.9" fill="#ff4b4e" stroke="#f72f58" stroke-width="0.8"/><rect x="682.8" y="480.1" width="1" height="8.3" fill="#1fae83"/><rect x="681.1" y="480.5" width="4.6" height="6.9" fill="#1bab7f" stroke="#1fae83" stroke-width="0.8"/><rect x="690" y="475.2" width="1" height="5.5" fill="#1fae83"/><rect x="688.3" y="476.8" width="4.6" height="3.3" fill="#1bab7f" stroke="#1fae83" stroke-width="0.8"/><rect x="697.2" y="457.2" width="1" height="21.1" fill="#1fae83"/><rect x="695.5" y="459.9" width="4.6" height="16.7" fill="#1bab7f" stroke="#1fae83" stroke-width="0.8"/><rect x="704.4" y="447.3" width="1" height="15.7" fill="#1fae83"/><rect x="702.7" y="457.4" width="4.6" height="2.2" fill="#1bab7f" stroke="#1fae83" stroke-width="0.8"/><rect x="711.6" y="455.1" width="1" height="7.3" fill="#f72f58"/><rect x="709.9" y="457" width="4.6" height="0.5" fill="#ff4b4e" stroke="#f72f58" stroke-width="0.8"/><rect x="718.8" y="454.1" width="1" height="6.2" fill="#f72f58"/><rect x="717.1" y="457" width="4.6" height="0.5" fill="#ff4b4e" stroke="#f72f58" stroke-width="0.8"/><rect x="726" y="455.1" width="1" height="9.9" fill="#f72f58"/><rect x="724.3" y="458.2" width="4.6" height="1.1" fill="#ff4b4e" stroke="#f72f58" stroke-width="0.8"/><rect x="733.2" y="453.5" width="1" height="8.1" fill="#1fae83"/><rect x="731.5" y="458.2" width="4.6" height="1.5" fill="#1bab7f" stroke="#1fae83" stroke-width="0.8"/><rect x="740.4" y="453.5" width="1" height="20.2" fill="#f72f58"/><rect x="738.7" y="458.2" width="4.6" height="9.1" fill="#ff4b4e" stroke="#f72f58" stroke-width="0.8"/><rect x="747.6" y="465.3" width="1" height="31.5" fill="#f72f58"/><rect x="745.9" y="467.9" width="4.6" height="28.5" fill="#ff4b4e" stroke="#f72f58" stroke-width="0.8"/><rect x="754.8" y="485.3" width="1" height="12.5" fill="#1fae83"/><rect x="753.1" y="494.8" width="4.6" height="1.6" fill="#1bab7f" stroke="#1fae83" stroke-width="0.8"/><rect x="762" y="493.1" width="1" height="12.1" fill="#f72f58"/><rect x="760.3" y="494.5" width="4.6" height="6.3" fill="#ff4b4e" stroke="#f72f58" stroke-width="0.8"/><rect x="769.2" y="498" width="1" height="76.8" fill="#f72f58"/><rect x="767.5" y="501.3" width="4.6" height="38.8" fill="#ff4b4e" stroke="#f72f58" stroke-width="0.8"/><rect x="776.4" y="531.5" width="1" height="13.2" fill="#1fae83"/><rect x="774.7" y="540.4" width="4.6" height="0.9" fill="#1bab7f" stroke="#1fae83" stroke-width="0.8"/><rect x="783.6" y="538" width="1" height="19.8" fill="#f72f58"/><rect x="781.9" y="540.4" width="4.6" height="2.7" fill="#ff4b4e" stroke="#f72f58" stroke-width="0.8"/><rect x="790.8" y="529" width="1" height="14.8" fill="#1fae83"/><rect x="789.1" y="536.4" width="4.6" height="6.8" fill="#1bab7f" stroke="#1fae83" stroke-width="0.8"/><rect x="798" y="535.4" width="1" height="10.5" fill="#f72f58"/><rect x="796.3" y="536.4" width="4.6" height="5.8" fill="#ff4b4e" stroke="#f72f58" stroke-width="0.8"/><rect x="805.2" y="541.1" width="1" height="22.8" fill="#f72f58"/><rect x="803.5" y="542.6" width="4.6" height="15.4" fill="#ff4b4e" stroke="#f72f58" stroke-width="0.8"/><rect x="812.4" y="548.2" width="1" height="14.6" fill="#1fae83"/><rect x="810.7" y="548.6" width="4.6" height="9.4" fill="#1bab7f" stroke="#1fae83" stroke-width="0.8"/><rect x="819.6" y="539.9" width="1" height="14.7" fill="#1fae83"/><rect x="817.9" y="546.3" width="4.6" height="1.8" fill="#1bab7f" stroke="#1fae83" stroke-width="0.8"/><rect x="826.8" y="532.7" width="1" height="13.2" fill="#1fae83"/><rect x="825.1" y="533.5" width="4.6" height="12" fill="#1bab7f" stroke="#1fae83" stroke-width="0.8"/><rect x="834" y="532.1" width="1" height="9.3" fill="#f72f58"/><rect x="832.3" y="533.5" width="4.6" height="4.7" fill="#ff4b4e" stroke="#f72f58" stroke-width="0.8"/><rect x="841.2" y="533.6" width="1" height="5.3" fill="#1fae83"/><rect x="839.5" y="537.4" width="4.6" height="0.8" fill="#1bab7f" stroke="#1fae83" stroke-width="0.8"/><rect x="848.4" y="536" width="1" height="4.5" fill="#f72f58"/><rect x="846.7" y="537.1" width="4.6" height="0.5" fill="#ff4b4e" stroke="#f72f58" stroke-width="0.8"/><rect x="855.6" y="536" width="1" height="4.1" fill="#1fae83"/><rect x="853.9" y="537.8" width="4.6" height="0.7" fill="#1bab7f" stroke="#1fae83" stroke-width="0.8"/><rect x="862.8" y="535.4" width="1" height="4.1" fill="#1fae83"/><rect x="861.1" y="537.1" width="4.6" height="0.5" fill="#1bab7f" stroke="#1fae83" stroke-width="0.8"/><rect x="870" y="534.8" width="1" height="5.7" fill="#1fae83"/><rect x="868.3" y="536.4" width="4.6" height="0.5" fill="#1bab7f" stroke="#1fae83" stroke-width="0.8"/><rect x="877.2" y="523.4" width="1" height="14.2" fill="#1fae83"/><rect x="875.5" y="527.3" width="4.6" height="8.5" fill="#1bab7f" stroke="#1fae83" stroke-width="0.8"/><rect x="884.4" y="521.9" width="1" height="10.2" fill="#1fae83"/><rect x="882.7" y="524.7" width="4.6" height="2" fill="#1bab7f" stroke="#1fae83" stroke-width="0.8"/><rect x="891.6" y="523.4" width="1" height="9.9" fill="#f72f58"/><rect x="889.9" y="524.7" width="4.6" height="2.6" fill="#ff4b4e" stroke="#f72f58" stroke-width="0.8"/><rect x="898.8" y="523.4" width="1" height="7.1" fill="#1fae83"/><rect x="897.1" y="526.3" width="4.6" height="1" fill="#1bab7f" stroke="#1fae83" stroke-width="0.8"/><rect x="906" y="524.4" width="1" height="7.1" fill="#f72f58"/><rect x="904.3" y="526.3" width="4.6" height="3.2" fill="#ff4b4e" stroke="#f72f58" stroke-width="0.8"/><rect x="913.2" y="525.3" width="1" height="19.4" fill="#f72f58"/><rect x="911.5" y="530" width="4.6" height="9.4" fill="#ff4b4e" stroke="#f72f58" stroke-width="0.8"/><rect x="920.4" y="530.8" width="1" height="13.3" fill="#f72f58"/><rect x="918.7" y="539.7" width="4.6" height="0.6" fill="#ff4b4e" stroke="#f72f58" stroke-width="0.8"/><rect x="927.6" y="535.4" width="1" height="9.3" fill="#1fae83"/><rect x="925.9" y="538" width="4.6" height="2.3" fill="#1bab7f" stroke="#1fae83" stroke-width="0.8"/><rect x="934.8" y="535.4" width="1" height="8.4" fill="#f72f58"/><rect x="933.1" y="538" width="4.6" height="4.2" fill="#ff4b4e" stroke="#f72f58" stroke-width="0.8"/><rect x="942" y="537" width="1" height="17.6" fill="#f72f58"/><rect x="940.3" y="542.6" width="4.6" height="10.4" fill="#ff4b4e" stroke="#f72f58" stroke-width="0.8"/><rect x="949.2" y="545.1" width="1" height="17.7" fill="#f72f58"/><rect x="947.5" y="553.5" width="4.6" height="6.6" fill="#ff4b4e" stroke="#f72f58" stroke-width="0.8"/><rect x="956.4" y="552.3" width="1" height="11.3" fill="#f72f58"/><rect x="954.7" y="560.7" width="4.6" height="1.1" fill="#ff4b4e" stroke="#f72f58" stroke-width="0.8"/><rect x="963.6" y="547.1" width="1" height="18.6" fill="#1fae83"/><rect x="961.9" y="550.7" width="4.6" height="11.2" fill="#1bab7f" stroke="#1fae83" stroke-width="0.8"/><rect x="970.8" y="548.7" width="1" height="108.7" fill="#f72f58"/><rect x="969.1" y="550.7" width="4.6" height="74.5" fill="#ff4b4e" stroke="#f72f58" stroke-width="0.8"/><rect x="978" y="609.9" width="1" height="19" fill="#1fae83"/><rect x="976.3" y="623.6" width="4.6" height="2" fill="#1bab7f" stroke="#1fae83" stroke-width="0.8"/><rect x="985.2" y="604.4" width="1" height="63.7" fill="#1fae83"/><rect x="983.5" y="617.8" width="4.6" height="5.3" fill="#1bab7f" stroke="#1fae83" stroke-width="0.8"/><rect x="992.4" y="606.2" width="1" height="36.7" fill="#f72f58"/><rect x="990.7" y="617.8" width="4.6" height="0.6" fill="#ff4b4e" stroke="#f72f58" stroke-width="0.8"/><rect x="999.6" y="614.3" width="1" height="22" fill="#f72f58"/><rect x="997.9" y="617.8" width="4.6" height="17.7" fill="#ff4b4e" stroke="#f72f58" stroke-width="0.8"/><rect x="1006.8" y="624.2" width="1" height="24.9" fill="#f72f58"/><rect x="1005.1" y="635.7" width="4.6" height="0.8" fill="#ff4b4e" stroke="#f72f58" stroke-width="0.8"/><rect x="1014" y="629.4" width="1" height="15.4" fill="#f72f58"/><rect x="1012.3" y="636.7" width="4.6" height="0.7" fill="#ff4b4e" stroke="#f72f58" stroke-width="0.8"/><rect x="1021.2" y="621.3" width="1" height="17.1" fill="#1fae83"/><rect x="1019.5" y="626.4" width="4.6" height="10.1" fill="#1bab7f" stroke="#1fae83" stroke-width="0.8"/><rect x="1028.4" y="617.7" width="1" height="9.9" fill="#1fae83"/><rect x="1026.7" y="621.5" width="4.6" height="4.1" fill="#1bab7f" stroke="#1fae83" stroke-width="0.8"/><rect x="1035.6" y="616.1" width="1" height="8.4" fill="#f72f58"/><rect x="1033.9" y="621.5" width="4.6" height="1.6" fill="#ff4b4e" stroke="#f72f58" stroke-width="0.8"/><rect x="1042.8" y="621.4" width="1" height="13.3" fill="#f72f58"/><rect x="1041.1" y="623.3" width="4.6" height="9.7" fill="#ff4b4e" stroke="#f72f58" stroke-width="0.8"/><rect x="1050" y="628.6" width="1" height="9.2" fill="#1fae83"/><rect x="1048.3" y="630.5" width="4.6" height="2.5" fill="#1bab7f" stroke="#1fae83" stroke-width="0.8"/><rect x="1057.2" y="626.8" width="1" height="28.5" fill="#f72f58"/><rect x="1055.5" y="630.5" width="4.6" height="20.5" fill="#ff4b4e" stroke="#f72f58" stroke-width="0.8"/><rect x="1064.4" y="637" width="1" height="15.8" fill="#1fae83"/><rect x="1062.7" y="640.5" width="4.6" height="10.7" fill="#1bab7f" stroke="#1fae83" stroke-width="0.8"/><rect x="1071.6" y="627.8" width="1" height="13" fill="#1fae83"/><rect x="1069.9" y="631.6" width="4.6" height="8.5" fill="#1bab7f" stroke="#1fae83" stroke-width="0.8"/><rect x="1078.8" y="621.9" width="1" height="14.9" fill="#1fae83"/><rect x="1077.1" y="626.8" width="4.6" height="4.3" fill="#1bab7f" stroke="#1fae83" stroke-width="0.8"/><rect x="1086" y="624.4" width="1" height="76.4" fill="#f72f58"/><rect x="1084.3" y="626.9" width="4.6" height="50.1" fill="#ff4b4e" stroke="#f72f58" stroke-width="0.8"/><rect x="1093.2" y="668.9" width="1" height="34.9" fill="#1fae83"/><rect x="1091.5" y="676.1" width="4.6" height="1.1" fill="#1bab7f" stroke="#1fae83" stroke-width="0.8"/><rect x="1100.4" y="671.8" width="1" height="24" fill="#f72f58"/><rect x="1098.7" y="676.4" width="4.6" height="15.9" fill="#ff4b4e" stroke="#f72f58" stroke-width="0.8"/><rect x="1107.6" y="678.2" width="1" height="14.6" fill="#1fae83"/><rect x="1105.9" y="678.9" width="4.6" height="13.4" fill="#1bab7f" stroke="#1fae83" stroke-width="0.8"/><rect x="1114.8" y="664.4" width="1" height="20.6" fill="#f72f58"/><rect x="1113.1" y="679.2" width="4.6" height="2.1" fill="#ff4b4e" stroke="#f72f58" stroke-width="0.8"/><rect x="1122" y="677" width="1" height="12.6" fill="#f72f58"/><rect x="1120.3" y="681.7" width="4.6" height="5.8" fill="#ff4b4e" stroke="#f72f58" stroke-width="0.8"/><rect x="1129.2" y="682.3" width="1" height="12.9" fill="#1fae83"/><rect x="1127.5" y="687" width="4.6" height="0.7" fill="#1bab7f" stroke="#1fae83" stroke-width="0.8"/><rect x="1136.4" y="678.2" width="1" height="53.3" fill="#1fae83"/><rect x="1134.7" y="684.8" width="4.6" height="1.7" fill="#1bab7f" stroke="#1fae83" stroke-width="0.8"/><rect x="1143.6" y="679.1" width="1" height="14" fill="#f72f58"/><rect x="1141.9" y="684.6" width="4.6" height="4.7" fill="#ff4b4e" stroke="#f72f58" stroke-width="0.8"/><rect x="1150.8" y="655.1" width="1" height="36.4" fill="#1fae83"/><rect x="1149.1" y="655.5" width="4.6" height="33.8" fill="#1bab7f" stroke="#1fae83" stroke-width="0.8"/><rect x="1158" y="653.7" width="1" height="10.7" fill="#f72f58"/><rect x="1156.3" y="655.5" width="4.6" height="4.4" fill="#ff4b4e" stroke="#f72f58" stroke-width="0.8"/><rect x="1165.2" y="639.6" width="1" height="23.1" fill="#1fae83"/><rect x="1163.5" y="651.4" width="4.6" height="8.5" fill="#1bab7f" stroke="#1fae83" stroke-width="0.8"/><rect x="1172.4" y="647.3" width="1" height="14.5" fill="#1fae83"/><rect x="1170.7" y="648.5" width="4.6" height="2.1" fill="#1bab7f" stroke="#1fae83" stroke-width="0.8"/><rect x="1179.6" y="647.5" width="1" height="9.1" fill="#f72f58"/><rect x="1177.9" y="648.5" width="4.6" height="3.9" fill="#ff4b4e" stroke="#f72f58" stroke-width="0.8"/><rect x="1186.8" y="649.4" width="1" height="8" fill="#f72f58"/><rect x="1185.1" y="653" width="4.6" height="2.3" fill="#ff4b4e" stroke="#f72f58" stroke-width="0.8"/><rect x="1194" y="649.4" width="1" height="9.6" fill="#f72f58"/><rect x="1192.3" y="655.7" width="4.6" height="0.5" fill="#ff4b4e" stroke="#f72f58" stroke-width="0.8"/><rect x="1201.2" y="644.8" width="1" height="11.1" fill="#1fae83"/><rect x="1199.5" y="648.7" width="4.6" height="6.6" fill="#1bab7f" stroke="#1fae83" stroke-width="0.8"/><rect x="1208.4" y="643.3" width="1" height="13.3" fill="#1fae83"/><rect x="1206.7" y="644.8" width="4.6" height="3.3" fill="#1bab7f" stroke="#1fae83" stroke-width="0.8"/><rect x="1215.6" y="627.7" width="1" height="17.7" fill="#1fae83"/><rect x="1213.9" y="640.6" width="4.6" height="3.8" fill="#1bab7f" stroke="#1fae83" stroke-width="0.8"/><rect x="1222.8" y="630.3" width="1" height="11.4" fill="#1fae83"/><rect x="1221.1" y="638.6" width="4.6" height="1.7" fill="#1bab7f" stroke="#1fae83" stroke-width="0.8"/><rect x="1230" y="638" width="1" height="12.1" fill="#f72f58"/><rect x="1228.3" y="638.6" width="4.6" height="5.8" fill="#ff4b4e" stroke="#f72f58" stroke-width="0.8"/><rect x="1237.2" y="643.9" width="1" height="8.9" fill="#f72f58"/><rect x="1235.5" y="644.8" width="4.6" height="2.4" fill="#ff4b4e" stroke="#f72f58" stroke-width="0.8"/><rect x="1244.4" y="640.2" width="1" height="10.8" fill="#1fae83"/><rect x="1242.7" y="644.3" width="4.6" height="2.9" fill="#1bab7f" stroke="#1fae83" stroke-width="0.8"/><rect x="1251.6" y="635.1" width="1" height="13.4" fill="#1fae83"/><rect x="1249.9" y="635.9" width="4.6" height="7.6" fill="#1bab7f" stroke="#1fae83" stroke-width="0.8"/><rect x="1258.8" y="614.1" width="1" height="43.2" fill="#1fae83"/><rect x="1257.1" y="617.9" width="4.6" height="17.5" fill="#1bab7f" stroke="#1fae83" stroke-width="0.8"/><rect x="1266" y="603.6" width="1" height="28.5" fill="#f72f58"/><rect x="1264.3" y="618.1" width="4.6" height="12.1" fill="#ff4b4e" stroke="#f72f58" stroke-width="0.8"/><rect x="1273.2" y="621.9" width="1" height="26" fill="#f72f58"/><rect x="1271.5" y="630.6" width="4.6" height="15.9" fill="#ff4b4e" stroke="#f72f58" stroke-width="0.8"/><rect x="1280.4" y="644.8" width="1" height="39.4" fill="#f72f58"/><rect x="1278.7" y="646.7" width="4.6" height="16.6" fill="#ff4b4e" stroke="#f72f58" stroke-width="0.8"/><rect x="1287.6" y="621.9" width="1" height="44.6" fill="#1fae83"/><rect x="1285.9" y="630.6" width="4.6" height="32.7" fill="#1bab7f" stroke="#1fae83" stroke-width="0.8"/><rect x="1294.8" y="607.2" width="1" height="23.8" fill="#1fae83"/><rect x="1293.1" y="611.6" width="4.6" height="18.7" fill="#1bab7f" stroke="#1fae83" stroke-width="0.8"/><rect x="1302" y="597.9" width="1" height="19.8" fill="#1fae83"/><rect x="1300.3" y="607.6" width="4.6" height="3.5" fill="#1bab7f" stroke="#1fae83" stroke-width="0.8"/><rect x="1309.2" y="564.8" width="1" height="47.8" fill="#1fae83"/><rect x="1307.5" y="585.6" width="4.6" height="21.2" fill="#1bab7f" stroke="#1fae83" stroke-width="0.8"/><rect x="1316.4" y="574.9" width="1" height="19.6" fill="#f72f58"/><rect x="1314.7" y="585.8" width="4.6" height="2.9" fill="#ff4b4e" stroke="#f72f58" stroke-width="0.8"/><rect x="1323.6" y="527" width="1" height="62.5" fill="#1fae83"/><rect x="1321.9" y="548.7" width="4.6" height="40" fill="#1bab7f" stroke="#1fae83" stroke-width="0.8"/><rect x="1330.8" y="532.6" width="1" height="16.1" fill="#1fae83"/><rect x="1329.1" y="545.4" width="4.6" height="2.9" fill="#1bab7f" stroke="#1fae83" stroke-width="0.8"/><rect x="1338" y="541.3" width="1" height="16.5" fill="#f72f58"/><rect x="1336.3" y="545.4" width="4.6" height="4.7" fill="#ff4b4e" stroke="#f72f58" stroke-width="0.8"/><rect x="1345.2" y="541.3" width="1" height="13.5" fill="#1fae83"/><rect x="1343.5" y="544.5" width="4.6" height="5.6" fill="#1bab7f" stroke="#1fae83" stroke-width="0.8"/><rect x="1352.4" y="543.7" width="1" height="15.7" fill="#f72f58"/><rect x="1350.7" y="544.5" width="4.6" height="12.9" fill="#ff4b4e" stroke="#f72f58" stroke-width="0.8"/><rect x="1359.6" y="546" width="1" height="11.8" fill="#1fae83"/><rect x="1357.9" y="553.4" width="4.6" height="4" fill="#1bab7f" stroke="#1fae83" stroke-width="0.8"/><rect x="1366.8" y="548.7" width="1" height="7.9" fill="#1fae83"/><rect x="1365.1" y="550.8" width="4.6" height="2.1" fill="#1bab7f" stroke="#1fae83" stroke-width="0.8"/><rect x="1374" y="536.9" width="1" height="15" fill="#1fae83"/><rect x="1372.3" y="540.7" width="4.6" height="9.7" fill="#1bab7f" stroke="#1fae83" stroke-width="0.8"/><rect x="1381.2" y="530.7" width="1" height="15" fill="#1fae83"/><rect x="1379.5" y="537.3" width="4.6" height="2.9" fill="#1bab7f" stroke="#1fae83" stroke-width="0.8"/><rect x="1388.4" y="535.3" width="1" height="22.2" fill="#f72f58"/><rect x="1386.7" y="537.1" width="4.6" height="19.3" fill="#ff4b4e" stroke="#f72f58" stroke-width="0.8"/><rect x="1395.6" y="545" width="1" height="22.4" fill="#1fae83"/><rect x="1393.9" y="550.7" width="4.6" height="5.6" fill="#1bab7f" stroke="#1fae83" stroke-width="0.8"/><rect x="1402.8" y="520.8" width="1" height="32.1" fill="#1fae83"/><rect x="1401.1" y="542.6" width="4.6" height="7.8" fill="#1bab7f" stroke="#1fae83" stroke-width="0.8"/><rect x="1410" y="538.2" width="1" height="10.3" fill="#f72f58"/><rect x="1408.3" y="542.6" width="4.6" height="1.3" fill="#ff4b4e" stroke="#f72f58" stroke-width="0.8"/><rect x="1417.2" y="540" width="1" height="13.9" fill="#f72f58"/><rect x="1415.5" y="544.6" width="4.6" height="1.6" fill="#ff4b4e" stroke="#f72f58" stroke-width="0.8"/><rect x="1424.4" y="540.6" width="1" height="10.9" fill="#1fae83"/><rect x="1422.7" y="544.6" width="4.6" height="1.6" fill="#1bab7f" stroke="#1fae83" stroke-width="0.8"/><rect x="1431.6" y="532.6" width="1" height="16.7" fill="#1fae83"/><rect x="1429.9" y="538.8" width="4.6" height="5.2" fill="#1bab7f" stroke="#1fae83" stroke-width="0.8"/><rect x="1438.8" y="526.2" width="1" height="13.2" fill="#1fae83"/><rect x="1437.1" y="533.6" width="4.6" height="4.8" fill="#1bab7f" stroke="#1fae83" stroke-width="0.8"/><rect x="1446" y="517.1" width="1" height="19.6" fill="#1fae83"/><rect x="1444.3" y="529.3" width="4.6" height="3.9" fill="#1bab7f" stroke="#1fae83" stroke-width="0.8"/><rect x="1453.2" y="501" width="1" height="30" fill="#1fae83"/><rect x="1451.5" y="503.9" width="4.6" height="24.3" fill="#1bab7f" stroke="#1fae83" stroke-width="0.8"/><rect x="1460.4" y="502.3" width="1" height="22.9" fill="#f72f58"/><rect x="1458.7" y="503.7" width="4.6" height="12.4" fill="#ff4b4e" stroke="#f72f58" stroke-width="0.8"/><rect x="1467.6" y="514" width="1" height="17" fill="#f72f58"/><rect x="1465.9" y="516.5" width="4.6" height="13.8" fill="#ff4b4e" stroke="#f72f58" stroke-width="0.8"/><rect x="1474.8" y="527.3" width="1" height="15.2" fill="#f72f58"/><rect x="1473.1" y="530.5" width="4.6" height="0.8" fill="#ff4b4e" stroke="#f72f58" stroke-width="0.8"/><rect x="1482" y="522.1" width="1" height="11.1" fill="#1fae83"/><rect x="1480.3" y="522.7" width="4.6" height="8.6" fill="#1bab7f" stroke="#1fae83" stroke-width="0.8"/><rect x="1489.2" y="522.1" width="1" height="8.4" fill="#f72f58"/><rect x="1487.5" y="522.7" width="4.6" height="1.5" fill="#ff4b4e" stroke="#f72f58" stroke-width="0.8"/><rect x="1496.4" y="523.9" width="1" height="7.5" fill="#f72f58"/><rect x="1494.7" y="524.7" width="4.6" height="1.9" fill="#ff4b4e" stroke="#f72f58" stroke-width="0.8"/><rect x="1503.6" y="521.8" width="1" height="12" fill="#1fae83"/><rect x="1501.9" y="522.9" width="4.6" height="3.7" fill="#1bab7f" stroke="#1fae83" stroke-width="0.8"/></g>
<g stroke="#dcdcdc" stroke-width="1" fill="none">
<path d="M42.6 307V789" stroke="#ececec"/>
<path d="M1580.5 307V767.3"/>
<path d="M42.6 767.3H1580.5"/>
<path d="M1580.5 352.4H1583.5"/>
<path d="M1580.5 402H1583.5"/>
<path d="M1580.5 452.3H1583.5"/>
<path d="M1580.5 501.6H1583.5"/>
<path d="M1580.5 552.2H1583.5"/>
<path d="M1580.5 601.3H1583.5"/>
<path d="M1580.5 651H1583.5"/>
<path d="M1580.5 701.4H1583.5"/>
<path d="M1580.5 750.6H1583.5"/>
<path d="M78.5 767.3V770.3"/>
<path d="M294.5 767.3V770.3"/>
<path d="M510.5 767.3V770.3"/>
<path d="M726.5 767.3V770.3"/>
<path d="M942.5 767.3V770.3"/>
<path d="M1158.5 767.3V770.3"/>
<path d="M1374.5 767.3V770.3"/>
</g>
<g font-family="'Liberation Sans', sans-serif" font-size="10.8" fill="#76808f">
<text x="1587.4" y="355.6" textLength="40.8" lengthAdjust="spacingAndGlyphs">2,720.00</text>
<text x="1587.4" y="405.2" textLength="40.8" lengthAdjust="spacingAndGlyphs">2,640.00</text>
<text x="1587.4" y="455.5" textLength="40.8" lengthAdjust="spacingAndGlyphs">2,560.00</text>
<text x="1587.4" y="504.8" textLength="40.8" lengthAdjust="spacingAndGlyphs">2,480.00</text>
<text x="1587.4" y="555.4" textLength="40.8" lengthAdjust="spacingAndGlyphs">2,400.00</text>
<text x="1587.4" y="604.5" textLength="40.8" lengthAdjust="spacingAndGlyphs">2,320.00</text>
<text x="1587.4" y="654.2" textLength="40.8" lengthAdjust="spacingAndGlyphs">2,240.00</text>
<text x="1587.4" y="704.6" textLength="40.8" lengthAdjust="spacingAndGlyphs">2,160.00</text>
<text x="1587.4" y="753.8" textLength="40.8" lengthAdjust="spacingAndGlyphs">2,080.00</text>
<text x="78.5" y="783.2" text-anchor="middle" textLength="26.4" lengthAdjust="spacingAndGlyphs">06-17</text>
<text x="294.5" y="783.2" text-anchor="middle" textLength="26.4" lengthAdjust="spacingAndGlyphs">06-18</text>
<text x="510.5" y="783.2" text-anchor="middle" textLength="26.4" lengthAdjust="spacingAndGlyphs">06-19</text>
<text x="726.5" y="783.2" text-anchor="middle" textLength="26.4" lengthAdjust="spacingAndGlyphs">06-20</text>
<text x="942.5" y="783.2" text-anchor="middle" textLength="26.4" lengthAdjust="spacingAndGlyphs">06-22</text>
<text x="1158.5" y="783.2" text-anchor="middle" textLength="26.4" lengthAdjust="spacingAndGlyphs">06-23</text>
<text x="1374.5" y="783.2" text-anchor="middle" textLength="26.4" lengthAdjust="spacingAndGlyphs">06-24</text>
</g>
<g font-family="'Liberation Sans', 'Noto Sans CJK SC', sans-serif" font-size="10.8">
<text x="52" y="325.2" fill="#76808f" textLength="16.3" lengthAdjust="spacingAndGlyphs">开=</text><text x="68.6" y="325.2" fill="#2dc08e" textLength="38" lengthAdjust="spacingAndGlyphs">2440.07</text>
<text x="112.1" y="325.2" fill="#76808f" textLength="16.3" lengthAdjust="spacingAndGlyphs">高=</text><text x="128.7" y="325.2" fill="#2dc08e" textLength="38.1" lengthAdjust="spacingAndGlyphs">2447.98</text>
<text x="172.2" y="325.2" fill="#76808f" textLength="16.3" lengthAdjust="spacingAndGlyphs">低=</text><text x="188.6" y="325.2" fill="#2dc08e" textLength="38.2" lengthAdjust="spacingAndGlyphs">2428.94</text>
<text x="232" y="325.2" fill="#76808f" textLength="16.3" lengthAdjust="spacingAndGlyphs">收=</text><text x="248.5" y="325.2" fill="#2dc08e" textLength="38.1" lengthAdjust="spacingAndGlyphs">2447.58</text>
<text x="291.7" y="325.2" fill="#76808f" textLength="16.8" lengthAdjust="spacingAndGlyphs">量=</text><text x="308.8" y="325.2" fill="#2dc08e" textLength="49.8" lengthAdjust="spacingAndGlyphs">117660.66</text>
<text x="363.4" y="325.2" fill="#76808f" textLength="37.3" lengthAdjust="spacingAndGlyphs">涨跌幅=</text><text x="401.1" y="325.2" fill="#2dc08e" textLength="30.8" lengthAdjust="spacingAndGlyphs">0.31%</text>
<text x="438" y="325.2" fill="#76808f" textLength="27.2" lengthAdjust="spacingAndGlyphs">振幅=</text><text x="465.5" y="325.2" fill="#2dc08e" textLength="30.5" lengthAdjust="spacingAndGlyphs">0.78%</text>
</g>
<g fill="none" stroke="#76808f" stroke-width="0.9"><path d="M51.2 339.1C53.5 336.2 55.6 335.1 57.4 335.1S61.3 336.2 63.6 339.1C61.3 342 59.2 343.1 57.4 343.1S53.5 342 51.2 339.1Z"/><circle cx="57.4" cy="339.1" r="1.7"/></g>
<text x="68.6" y="342.8" font-family="'Liberation Sans', sans-serif" font-size="10.8" fill="#76808f" textLength="28.6" lengthAdjust="spacingAndGlyphs">signal</text>
<g stroke="#505050" stroke-width="0.85" fill="none"><path d="M20.8 322.4H34.8"/><circle cx="27.5" cy="322.4" r="1.45" fill="#505050" stroke="none"/><path d="M20.6 350.6H34.8"/><circle cx="21.6" cy="350.6" r="1.45" fill="#505050" stroke="none"/><circle cx="28.4" cy="350.6" r="1.45" fill="#505050" stroke="none"/><path d="M21.9 378.4H33.5"/><circle cx="21.9" cy="378.4" r="1.45" fill="#505050" stroke="none"/><circle cx="33.5" cy="378.4" r="1.45" fill="#505050" stroke="none"/><path d="M27.5 398.9V414.5"/><circle cx="27.5" cy="406.6" r="1.45" fill="#505050" stroke="none"/><path d="M27.5 427.3V441"/><circle cx="27.5" cy="433.6" r="1.45" fill="#505050" stroke="none"/><circle cx="27.5" cy="440.6" r="1.45" fill="#505050" stroke="none"/><path d="M27.5 455.4V467.7"/><circle cx="27.5" cy="455.4" r="1.45" fill="#505050" stroke="none"/><circle cx="27.5" cy="467.7" r="1.45" fill="#505050" stroke="none"/><path d="M22.2 495.2L33.3 484.1"/><circle cx="25.6" cy="491.8" r="1.45" fill="#505050" stroke="none"/><circle cx="29.8" cy="487.5" r="1.45" fill="#505050" stroke="none"/><path d="M23.4 521.5L33.5 512"/><circle cx="23.4" cy="521.5" r="1.45" fill="#505050" stroke="none"/><circle cx="28.6" cy="516.8" r="1.45" fill="#505050" stroke="none"/><path d="M22.6 550.6L31.7 541.3"/><circle cx="22.6" cy="550.6" r="1.45" fill="#505050" stroke="none"/><circle cx="31.7" cy="541.3" r="1.45" fill="#505050" stroke="none"/><path d="M21.6 575.7H34.8"/><circle cx="21.6" cy="575.7" r="1.45" fill="#505050" stroke="none"/><text x="24.1" y="573.8" font-family="'Liberation Sans', sans-serif" font-size="5.6" font-weight="bold" fill="#505050" stroke="none" textLength="9.7" lengthAdjust="spacingAndGlyphs">123</text><path d="M19.7 605.2L30.8 594.1M24.1 610.1L35.3 599"/><circle cx="25.2" cy="599.7" r="1.45" fill="#505050" stroke="none"/><circle cx="27.5" cy="606.4" r="1.45" fill="#505050" stroke="none"/><circle cx="31.8" cy="602.3" r="1.45" fill="#505050" stroke="none"/><path d="M20.1 630.5L28.9 622.3M22.2 635L33.3 624.1M26.6 636.4L35.3 628.3"/><circle cx="25.6" cy="631.5" r="1.45" fill="#505050" stroke="none"/><circle cx="29.6" cy="627.5" r="1.45" fill="#505050" stroke="none"/><circle cx="30.5" cy="632.7" r="1.45" fill="#505050" stroke="none"/><path d="M20.1 652.4H35.6M20.1 655.4H35.6M20.1 658.5H35.6M20.1 661H35.6M20.1 664H35.6"/><circle cx="23.8" cy="652.4" r="1.45" fill="#505050" stroke="none"/><circle cx="31.8" cy="652.4" r="1.45" fill="#505050" stroke="none"/><circle cx="27.8" cy="664" r="1.45" fill="#505050" stroke="none"/><path stroke="#444" stroke-width="1.05" d="M20 679.9H35.6M25.2 679.9C25.2 676.6 30 676.6 30 679.9M21.9 680.2V691.2Q21.9 693.2 23.9 693.2H31.8Q33.8 693.2 33.8 691.2V680.2M25.9 682.3V690.7M29.3 682.3V690.7"/></g>
</svg>

<div class="btns"><span style="width:38px">订 单</span><span style="width:38px">指 标</span><span style="width:20px"><svg width="12" height="12" viewBox="-6 -6 12 12" style="margin:3.4px 0 0 0.4px"><g stroke="#5c5c5c" stroke-width="1.0" fill="#5c5c5c"><path d="M1.3 -1.3L4 -4M-1.3 -1.3L-4 -4M1.3 1.3L4 4M-1.3 1.3L-4 4" fill="none"/><path d="M5 -5H2.4L5 -2.4ZM-5 -5H-2.4L-5 -2.4ZM5 5H2.4L5 2.4ZM-5 5H-2.4L-5 2.4Z" stroke="none"/></g></svg></span></div>
<div class="top"><svg width="36" height="36" viewBox="0 0 36 36"><path d="M11.9 12.4H24.5M18.2 24.3V15.6" fill="none" stroke="#2a2a2a" stroke-width="1.25"/><path d="M18.2 14.2L20.4 17.4H16Z" fill="#2a2a2a"/></svg></div>
</div>
</body>
</html>
